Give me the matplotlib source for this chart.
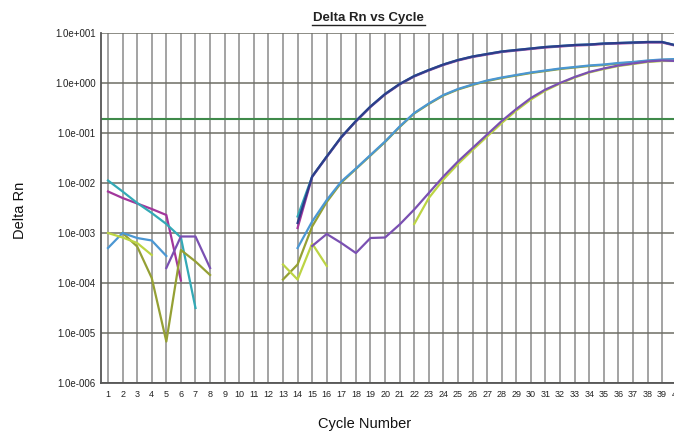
import numpy as np
import matplotlib
matplotlib.use("Agg")
from matplotlib import pyplot as plt
from matplotlib.lines import Line2D

plt.rcParams['font.family'] = ['Liberation Sans', 'DejaVu Sans']

nan = np.nan
cycles = np.arange(1, 41)

# log10(Delta Rn), cycles 1..40 (nan = not drawn)
teal = [-1.95, -2.17, -2.4, -2.6, -2.82, -3.09, -4.5, nan, nan, nan,
        nan, nan, nan, -2.67, -1.87, -1.47, -1.08, -0.76, -0.47, -0.22,
        -0.02, 0.14, 0.26, 0.37, 0.46, 0.53, 0.58, 0.63, 0.66, 0.69,
        0.72, 0.74, 0.76, 0.77, 0.79, 0.80, 0.81, 0.82, 0.82, 0.75]
magenta = [-2.17, -2.3, -2.41, -2.52, -2.64, -3.95, nan, nan, nan, nan,
           nan, nan, nan, -2.9, -1.88, -1.48, -1.09, -0.77, -0.48, -0.23,
           -0.03, 0.13, 0.25, 0.36, 0.45, 0.52, 0.57, 0.62, 0.65, 0.68,
           0.71, 0.73, 0.75, 0.76, 0.78, 0.79, 0.80, 0.81, 0.81, 0.74]
navy = [nan, nan, nan, nan, nan, nan, nan, nan, nan, nan,
        nan, nan, nan, -2.8, -1.87, -1.47, -1.08, -0.76, -0.47, -0.22,
        -0.02, 0.14, 0.26, 0.37, 0.46, 0.53, 0.58, 0.63, 0.66, 0.69,
        0.72, 0.74, 0.76, 0.77, 0.79, 0.80, 0.81, 0.82, 0.82, 0.75]
lightblue = [-3.3, -3.0, -3.1, -3.15, -3.46, nan, nan, nan, nan, nan,
             nan, nan, nan, -3.3, -2.77, -2.34, -1.97, -1.71, -1.44, -1.17,
             -0.87, -0.6, -0.41, -0.24, -0.12, -0.03, 0.05, 0.11, 0.16, 0.21,
             0.25, 0.29, 0.32, 0.35, 0.37, 0.40, 0.42, 0.45, 0.47, 0.48]
olive = [nan, -3.0, -3.27, -3.9, -5.17, -3.34, -3.57, -3.84, nan, nan,
         nan, nan, -3.93, -3.63, -2.87, -2.38, -1.99, -1.72, -1.45, -1.18,
         -0.88, -0.61, -0.42, -0.25, -0.13, -0.04, 0.04, 0.10, 0.15, 0.20,
         0.24, 0.28, 0.31, 0.34, 0.36, 0.39, 0.41, 0.44, 0.46, 0.47]
purple = [nan, nan, nan, nan, -3.7, -3.07, -3.07, -3.7, nan, nan,
          nan, nan, nan, nan, -3.26, -3.02, -3.2, -3.4, -3.1, -3.09,
          -2.83, -2.53, -2.2, -1.87, -1.57, -1.3, -1.03, -0.76, -0.52, -0.3,
          -0.13, 0.0, 0.12, 0.22, 0.29, 0.35, 0.39, 0.43, 0.45, 0.44]
yellowgreen = [-3.0, -3.09, -3.2, -3.44, nan, nan, nan, nan, nan, nan,
               nan, nan, -3.63, -3.93, -3.21, -3.66, nan, nan, nan, nan,
               nan, -2.82, -2.3, -1.93, -1.62, -1.34, -1.07, -0.8, -0.55, -0.33,
               -0.15, -0.01, 0.11, 0.21, 0.28, 0.34, 0.38, 0.42, 0.44, 0.44]

threshold = 0.19

series = [
    (magenta, '#a2369c'),
    (teal, '#33a9b6'),
    (navy, '#2e3c8a'),
    (olive, '#95a034'),
    (lightblue, '#4b97d3'),
    (yellowgreen, '#bcd444'),
    (purple, '#7a50b2'),
]

ytick_vals = [1e-6, 1e-5, 1e-4, 1e-3, 1e-2, 1e-1, 1e0, 1e1]
ytick_labels = ['1.0e-006', '1.0e-005', '1.0e-004', '1.0e-003',
                '1.0e-002', '1.0e-001', '1.0e+000', '1.0e+001']

fig = plt.figure(figsize=(6.74, 4.36), dpi=100)
ax = fig.add_axes([101 / 674, 1 - 383 / 436, 583 / 674, 350 / 436])

for vals, col in series:
    ax.plot(cycles, np.power(10.0, np.array(vals)), color=col, lw=1.6,
            solid_joinstyle='round', zorder=3)

ax.axhline(threshold, color='#3f8a4a', lw=1.5, zorder=2)

ax.set_yscale('log')
ax.set_ylim(1e-6, 1e1)
ax.set_xlim(0.52, 40.5)
ax.set_yticks(ytick_vals)
ax.set_yticklabels(ytick_labels)
ax.yaxis.set_minor_locator(matplotlib.ticker.NullLocator())
ax.set_xticks(cycles)
ax.set_xticklabels([str(c) for c in cycles])
ax.tick_params(axis='both', length=0, colors='#222222')
ax.tick_params(axis='y', pad=4, labelsize=7)
ax.tick_params(axis='x', pad=5, labelsize=6.5)

for c in cycles:
    ax.axvline(c, color='#8a8a8a', lw=1.1, zorder=1)
for v in ytick_vals:
    ax.axhline(v, color='#6e6e64', lw=1.1, zorder=1)

for s in ['top', 'right']:
    ax.spines[s].set_visible(False)
for s in ['left', 'bottom']:
    ax.spines[s].set_color('#555555')
    ax.spines[s].set_linewidth(1.3)

fig.text(368 / 674, 1 - 18 / 436, 'Delta Rn vs Cycle', ha='center', va='center',
         fontsize=9.5, fontweight='bold', color='#222222')
fig.add_artist(Line2D([312 / 674, 425 / 674], [1 - 25 / 436, 1 - 25 / 436],
                      color='#222222', lw=1.0))
fig.text(20 / 674, 1 - 210 / 436, 'Delta Rn', rotation=90, ha='center', va='center',
         fontsize=10.5, color='#111111')
fig.text(365 / 674, 1 - 424 / 436, 'Cycle Number', ha='center', va='center',
         fontsize=10.5, color='#111111')

fig.savefig('out.png', dpi=100)
